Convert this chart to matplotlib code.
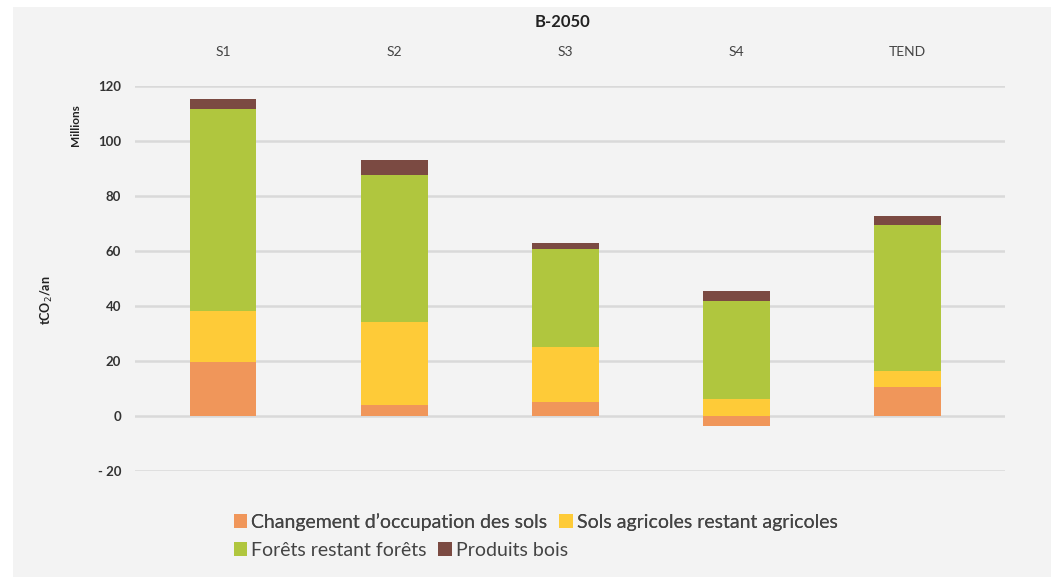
import matplotlib.pyplot as plt
import matplotlib.patches as mpatches
import numpy as np

plt.rcParams['font.family'] = ['Lato', 'DejaVu Sans']

# Data (millions tCO2/an)
scenarios = ['S1', 'S2', 'S3', 'S4', 'TEND']
changement = [19.8, 4.0, 5.0, -3.5, 10.4]
sols_agricoles = [18.5, 30.1, 20.2, 6.2, 5.9]
forets = [73.2, 53.7, 35.4, 35.6, 53.2]
produits_bois = [3.7, 5.3, 2.4, 3.7, 3.1]

series = [changement, sols_agricoles, forets, produits_bois]
labels = ["Changement d\u2019occupation des sols", "Sols agricoles restant agricoles",
          "For\u00eats restant for\u00eats", "Produits bois"]
colors = ['#F0965A', '#FECB38', '#B0C63E', '#7B4A42']
yticks = [-20, 0, 20, 40, 60, 80, 100, 120]
ytick_labels = ['- 20', '0', '20', '40', '60', '80', '100', '120']

W, H = 1057, 581
fig = plt.figure(figsize=(W / 100, H / 100), dpi=100, facecolor='white')

# light grey panel behind everything
fig.patches.append(mpatches.Rectangle((13 / W, 1 - 577 / H), (1051 - 13) / W, (577 - 7) / H,
                                      transform=fig.transFigure, facecolor='#F3F3F3',
                                      edgecolor='none', zorder=-10))

ax = fig.add_axes([135 / W, 1 - 471 / H, (1005 - 135) / W, (471 - 86) / H])
ax.set_facecolor('none')

x = np.arange(len(scenarios))
pos_bottom = np.zeros(len(scenarios))
neg_bottom = np.zeros(len(scenarios))
handles = []
for vals, lab, col in zip(series, labels, colors):
    vals = np.array(vals)
    bottom = np.where(vals >= 0, pos_bottom, neg_bottom)
    b = ax.bar(x, vals, width=0.39, bottom=bottom, color=col, label=lab, zorder=3)
    handles.append(b)
    pos_bottom += np.where(vals >= 0, vals, 0)
    neg_bottom += np.where(vals < 0, vals, 0)

ax.set_xlim(-0.515, 4.57)
ax.set_ylim(-20, 120)
ax.set_yticks(yticks)
ax.set_yticklabels(ytick_labels, fontsize=9.5, fontweight='bold', color='#333333')
ax.grid(axis='y', color='#D9D9D9', linewidth=1.8, zorder=0)
ax.set_axisbelow(True)
for s in ax.spines.values():
    s.set_visible(False)
ax.tick_params(axis='y', length=0, pad=10)
ax.xaxis.tick_top()
ax.set_xticks(x)
ax.set_xticklabels(scenarios, fontsize=10, color='#444444')
ax.tick_params(axis='x', length=0, pad=20)

fig.text(563 / W, 1 - 22 / H, 'B-2050', ha='center', va='center', fontsize=12,
         fontweight='bold', color='#222222')
fig.text(75 / W, 1 - 125 / H, 'Millions', rotation=90, ha='center', va='center',
         fontsize=8.5, fontweight='bold', color='#222222')
fig.text(47 / W, 1 - 300 / H, 'tCO$_2$/an', rotation=90, ha='center', va='center',
         fontsize=9, fontweight='bold', color='#222222')

leg_kw = dict(frameon=False, fontsize=14, handlelength=0.7, handleheight=0.7,
              handletextpad=0.2, columnspacing=0.6, borderaxespad=0, labelcolor='#444444')
leg1 = fig.legend(handles[:2], labels[:2], ncol=2, loc='center left',
                  bbox_to_anchor=(226 / W, 1 - 522 / H), **leg_kw)
fig.add_artist(leg1)
fig.legend(handles[2:], labels[2:], ncol=2, loc='center left',
           bbox_to_anchor=(226 / W, 1 - 550 / H), **leg_kw)

fig.savefig('out.png', dpi=100, facecolor='white')
